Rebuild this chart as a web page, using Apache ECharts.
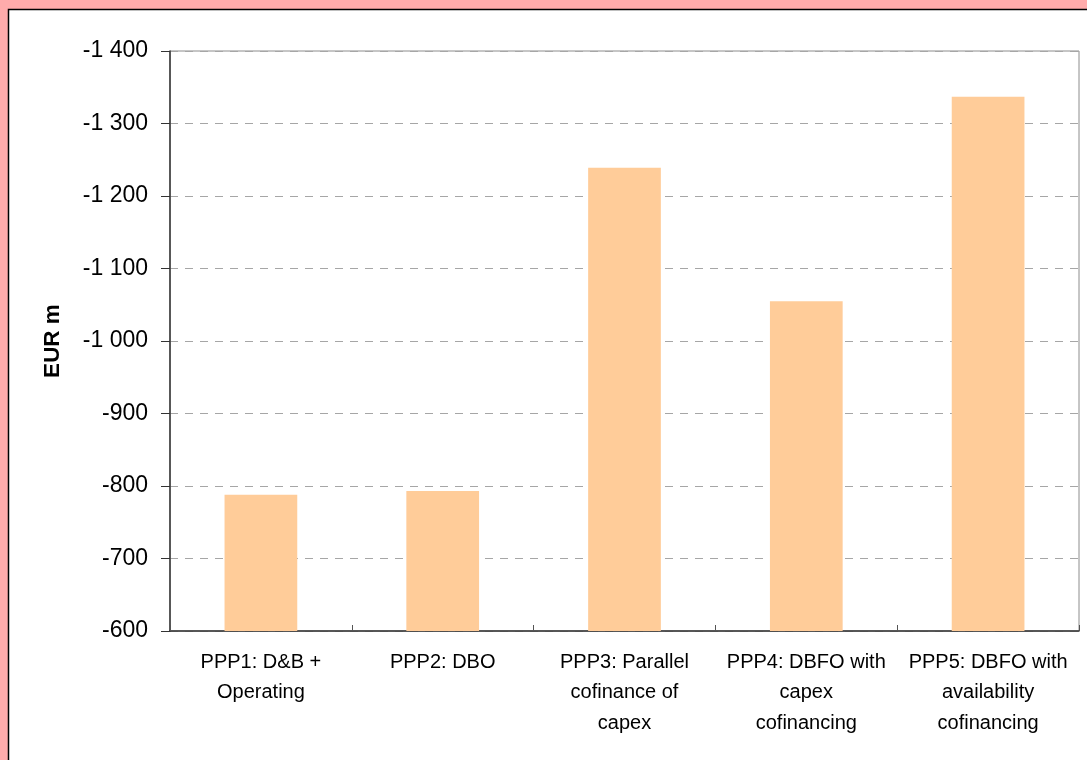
<!DOCTYPE html>
<html><head><meta charset="utf-8">
<script src="https://cdn.jsdelivr.net/npm/echarts@6/dist/echarts.min.js"></script>
<style>html,body{margin:0;padding:0;background:#ffabab;}#c{width:1087px;height:760px;}</style>
</head><body><div id="c"></div>
<script>
const categories = ["PPP1: D&B +\nOperating", "PPP2: DBO", "PPP3: Parallel\ncofinance of\ncapex", "PPP4: DBFO with\ncapex\ncofinancing", "PPP5: DBFO with\navailability\ncofinancing"];
const values = [-788, -793, -1239, -1055, -1337];
const yTicks = { min: -1400, max: -600, interval: 100 };
const yLabel = "EUR m";

const chart = echarts.init(document.getElementById('c'), null, {renderer: 'canvas'});
chart.setOption({
  backgroundColor: '#ffabab',
  animation: false,
  graphic: [{
    type: 'rect', z: -10, silent: true,
    shape: {x: 8.5, y: 9.5, width: 1100, height: 800},
    style: {fill: '#ffffff', stroke: '#000000', lineWidth: 1.5}
  }],
  grid: {left: 170, right: 8, top: 51, bottom: 129, show: true, borderColor: '#8c8c8c', borderWidth: 1, backgroundColor: 'transparent'},
  xAxis: {
    type: 'category', data: categories,
    axisLine: {lineStyle: {color: '#333', width: 1.5}},
    axisTick: {show: true, inside: true, length: 6, lineStyle: {color: '#555'}},
    axisLabel: {color: '#000', fontFamily: 'Liberation Sans, Arial', fontSize: 20, lineHeight: 30.5, margin: 16, interval: 0},
    splitLine: {show: false}
  },
  yAxis: {
    type: 'value', inverse: true, min: yTicks.min, max: yTicks.max, interval: yTicks.interval,
    name: yLabel, nameLocation: 'middle', nameGap: 106, nameRotate: 90,
    nameTextStyle: {fontFamily: 'Liberation Sans, Arial', fontWeight: 'bold', fontSize: 22.5, color: '#000'},
    axisLine: {show: true, lineStyle: {color: '#333', width: 1.5}},
    axisTick: {show: true, length: 9, lineStyle: {color: '#333'}},
    axisLabel: {color: '#000', fontFamily: 'Liberation Sans, Arial', fontSize: 23, margin: 22,
      formatter: v => { const s = Math.abs(v).toString(); const f = s.length > 3 ? s.slice(0, s.length-3) + ' ' + s.slice(-3) : s; return (v < 0 ? '-' : '') + f; }},
    splitLine: {show: true, lineStyle: {color: '#a6a6a6', type: [8, 7], width: 1}}
  },
  series: [{
    type: 'bar', data: values, barWidth: '40%', clip: true,
    itemStyle: {color: '#ffcc99'}
  }]
});
</script></body></html>
